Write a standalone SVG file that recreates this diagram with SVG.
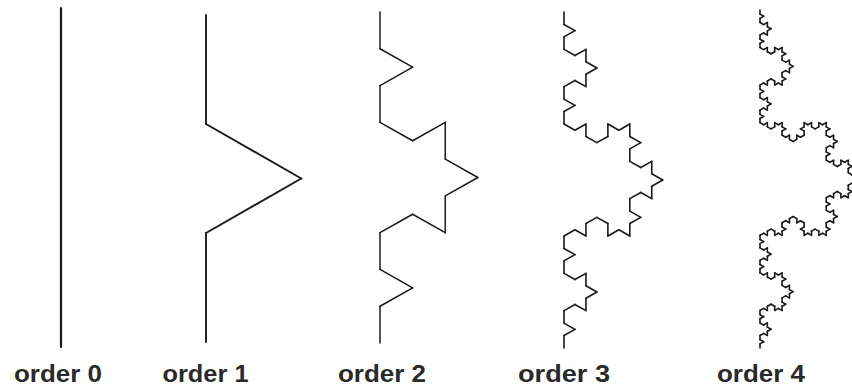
<svg xmlns="http://www.w3.org/2000/svg" width="852" height="387" viewBox="0 0 852 387">
<style>
.k{fill:none;stroke:#1a1a1a;stroke-linecap:round;stroke-linejoin:round}
.lbl{font-family:"Liberation Sans",Arial,sans-serif;font-size:23px;font-weight:bold;fill:#2a2a2a;text-anchor:middle}
</style>
<defs>
<line id="k0" x1="0" y1="0" x2="1" y2="0" vector-effect="non-scaling-stroke"/>
<g id="k1">
<use href="#k0" transform="scale(0.3333333)"/>
<use href="#k0" transform="translate(0.3333333,0) rotate(-60) scale(0.3333333)"/>
<use href="#k0" transform="translate(0.5,-0.2886751) rotate(60) scale(0.3333333)"/>
<use href="#k0" transform="translate(0.6666667,0) scale(0.3333333)"/>
</g>
<g id="k2">
<use href="#k1" transform="scale(0.3333333)"/>
<use href="#k1" transform="translate(0.3333333,0) rotate(-60) scale(0.3333333)"/>
<use href="#k1" transform="translate(0.5,-0.2886751) rotate(60) scale(0.3333333)"/>
<use href="#k1" transform="translate(0.6666667,0) scale(0.3333333)"/>
</g>
<g id="k3">
<use href="#k2" transform="scale(0.3333333)"/>
<use href="#k2" transform="translate(0.3333333,0) rotate(-60) scale(0.3333333)"/>
<use href="#k2" transform="translate(0.5,-0.2886751) rotate(60) scale(0.3333333)"/>
<use href="#k2" transform="translate(0.6666667,0) scale(0.3333333)"/>
</g>
<g id="k4">
<use href="#k3" transform="scale(0.3333333)"/>
<use href="#k3" transform="translate(0.3333333,0) rotate(-60) scale(0.3333333)"/>
<use href="#k3" transform="translate(0.5,-0.2886751) rotate(60) scale(0.3333333)"/>
<use href="#k3" transform="translate(0.6666667,0) scale(0.3333333)"/>
</g>
</defs>
<g id="order0">
<use class="k" href="#k0" stroke-width="2.2" transform="translate(61,8) rotate(90) scale(339,339)"/>
<text class="lbl" x="58" y="382" textLength="88" lengthAdjust="spacingAndGlyphs">order 0</text>
</g>
<g id="order1">
<use class="k" href="#k1" stroke-width="1.9" transform="translate(206,15) rotate(90) scale(327,330)"/>
<text class="lbl" x="205.5" y="382" textLength="86" lengthAdjust="spacingAndGlyphs">order 1</text>
</g>
<g id="order2">
<use class="k" href="#k2" stroke-width="1.5" transform="translate(380,12) rotate(90) scale(331,339)"/>
<text class="lbl" x="382" y="382" textLength="88" lengthAdjust="spacingAndGlyphs">order 2</text>
</g>
<g id="order3">
<use class="k" href="#k3" stroke-width="1.6" transform="translate(564,12) rotate(90) scale(336,342)"/>
<text class="lbl" x="564" y="382" textLength="92" lengthAdjust="spacingAndGlyphs">order 3</text>
</g>
<g id="order4">
<use class="k" href="#k4" stroke-width="1.6" transform="translate(760,10) rotate(90) scale(338,344)"/>
<text class="lbl" x="761" y="382" textLength="88" lengthAdjust="spacingAndGlyphs">order 4</text>
</g>
</svg>
